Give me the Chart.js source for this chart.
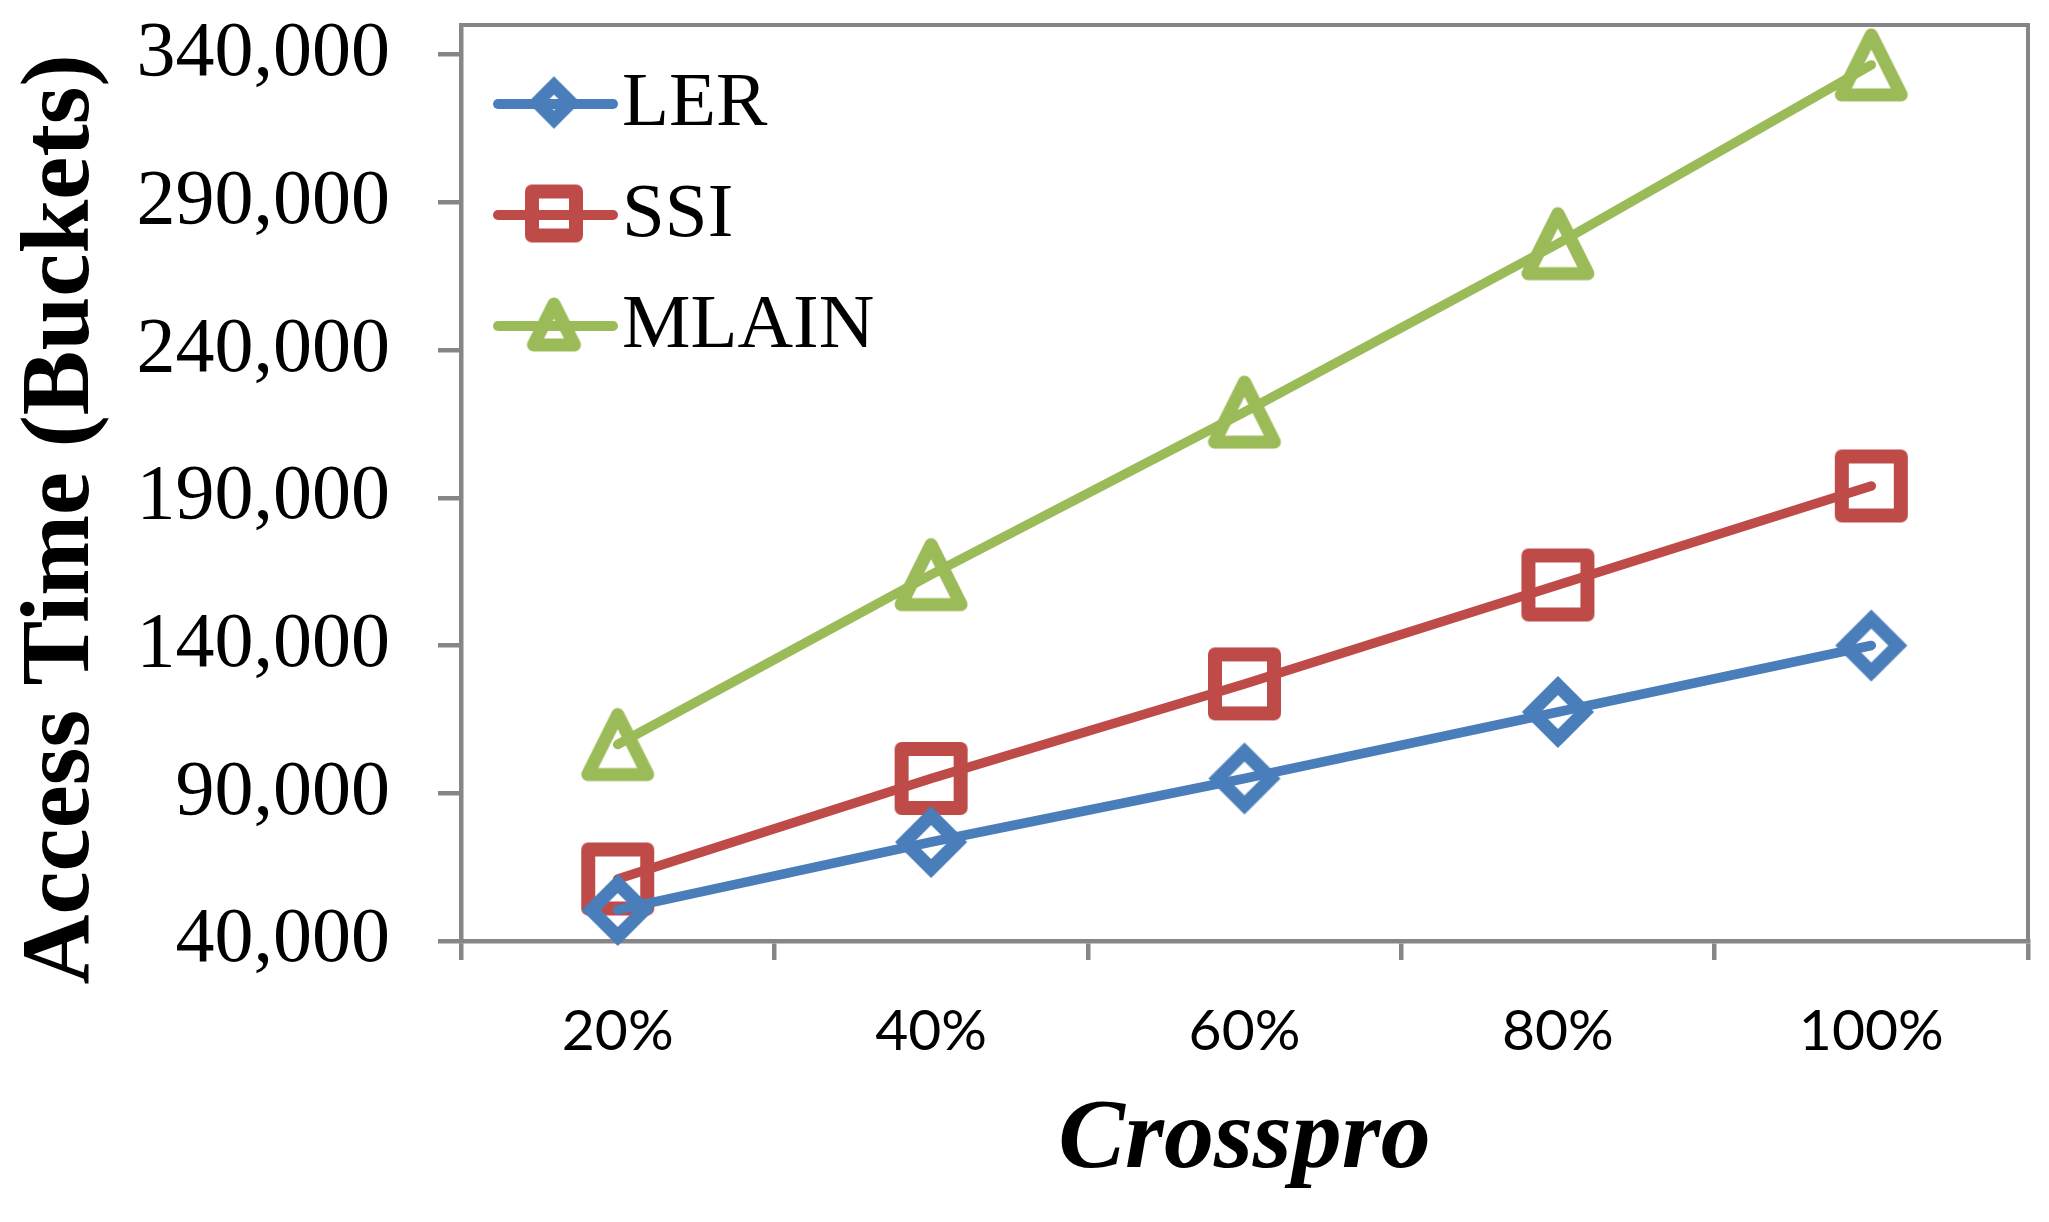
<!DOCTYPE html>
<html>
<head>
<meta charset="utf-8">
<script src="https://cdn.jsdelivr.net/npm/chart.js@4/dist/chart.umd.min.js"></script>
<style>
  html, body { margin: 0; padding: 0; background: #ffffff; }
  #wrap { width: 2049px; height: 1222px; }
</style>
</head>
<body>
<div id="wrap"><canvas id="c" width="2049" height="1222"></canvas></div>
<script>
// ---- data ----
const categories = ['20%', '40%', '60%', '80%', '100%'];
const lerValues = [50500, 73500, 95000, 117500, 140000];
const ssiValues = [61000, 95000, 127000, 160500, 194000];
const mlainValues = [106500, 164000, 219000, 276000, 336500];
const yTickValues = [40000, 90000, 140000, 190000, 240000, 290000, 340000];
const seriesNames = ['LER', 'SSI', 'MLAIN'];
const xTitle = 'Crosspro';
const yTitle = 'Access Time (Buckets)';

// ---- styles ----
const BLUE = '#4A7EBB', RED = '#BE4B48', GREEN = '#9BBB59', AXIS = '#868686';
const SERIF = '"Liberation Serif", "Times New Roman", serif';

// hollow marker images (style only)
function makeMarker(shape, size, stroke, color) {
  const S = Math.ceil(size + stroke * 2 + 6);
  const cv = document.createElement('canvas');
  cv.width = S; cv.height = S;
  const g = cv.getContext('2d');
  const c = S / 2;
  g.strokeStyle = color;
  g.lineWidth = stroke;
  g.beginPath();
  if (shape === 'diamond') {
    const r = size / 2;
    g.lineJoin = 'miter';
    g.moveTo(c, c - r); g.lineTo(c + r, c); g.lineTo(c, c + r); g.lineTo(c - r, c); g.closePath();
  } else if (shape === 'square') {
    const h = size / 2;
    g.lineJoin = 'round';
    g.rect(c - h, c - h, size, size);
  } else {
    const h = size / 2;
    g.lineJoin = 'round';
    g.moveTo(c, c - h); g.lineTo(c + h, c + h); g.lineTo(c - h, c + h); g.closePath();
  }
  g.stroke();
  return cv;
}

const markers = {
  LER: makeMarker('diamond', 53, 13.5, BLUE),
  SSI: makeMarker('square', 59, 14, RED),
  MLAIN: makeMarker('triangle', 60, 13, GREEN)
};
const legendMarkers = {
  LER: makeMarker('diamond', 34, 13, BLUE),
  SSI: makeMarker('square', 44, 14, RED),
  MLAIN: makeMarker('triangle', 41, 13, GREEN)
};

const frame = {
  id: 'frame',
  beforeDatasetsDraw(chart) {
    const a = chart.chartArea, ctx = chart.ctx;
    ctx.save();
    ctx.strokeStyle = AXIS;
    ctx.lineWidth = 4;
    ctx.beginPath();
    ctx.moveTo(a.left, a.top);
    ctx.lineTo(a.right, a.top);
    ctx.lineTo(a.right, a.bottom);
    ctx.stroke();
    ctx.restore();
  }
};

const legendInside = {
  id: 'legendInside',
  afterDatasetsDraw(chart) {
    const ctx = chart.ctx;
    const rows = [104, 215, 326];
    const x0 = 498, x1 = 613, xm = 554, xt = 622;
    chart.data.datasets.forEach((ds, i) => {
      const y = rows[i];
      ctx.save();
      ctx.strokeStyle = ds.borderColor;
      ctx.lineWidth = 10;
      ctx.lineCap = 'round';
      ctx.beginPath();
      ctx.moveTo(x0, y);
      ctx.lineTo(x1, y);
      ctx.stroke();
      const m = legendMarkers[ds.label];
      ctx.drawImage(m, xm - m.width / 2, y - 1.5 - m.height / 2);
      ctx.fillStyle = '#000';
      ctx.font = '77px ' + SERIF;
      ctx.textBaseline = 'middle';
      ctx.textAlign = 'left';
      ctx.fillText(ds.label, xt, y + 1);
      ctx.restore();
    });
  }
};

function mkSet(label, data, color) {
  return {
    label, data,
    borderColor: color,
    backgroundColor: 'rgba(0,0,0,0)',
    borderWidth: 9.5,
    borderCapStyle: 'round',
    borderJoinStyle: 'round',
    pointStyle: markers[label],
    pointRadius: 30,
    pointHoverRadius: 30,
    pointBorderColor: color,
    pointBackgroundColor: 'rgba(0,0,0,0)',
    tension: 0,
    clip: false
  };
}

new Chart(document.getElementById('c'), {
  type: 'line',
  data: {
    labels: categories,
    datasets: [
      mkSet(seriesNames[0], lerValues, BLUE),
      mkSet(seriesNames[1], ssiValues, RED),
      mkSet(seriesNames[2], mlainValues, GREEN)
    ]
  },
  options: {
    responsive: false,
    animation: false,
    devicePixelRatio: 1,
    layout: { autoPadding: false, padding: { top: 25, right: 21, bottom: 0, left: 0 } },
    plugins: { legend: { display: false }, tooltip: { enabled: false } },
    scales: {
      x: {
        type: 'category',
        offset: true,
        grid: { display: true, offset: true, drawOnChartArea: false, drawTicks: true, tickLength: 19, color: AXIS, lineWidth: 4.5 },
        border: { display: true, color: AXIS, width: 4.5 },
        ticks: { color: '#000', padding: 37, maxRotation: 0, font: { family: 'Lato, "Open Sans", sans-serif', size: 57 } },
        title: { display: true, text: xTitle, color: '#000', padding: { top: 0, bottom: 21 }, font: { family: SERIF, size: 100, weight: 'bold', style: 'italic' } },
        afterFit(s) { s.height = 281; s.paddingLeft = 0; s.paddingRight = 0; }
      },
      y: {
        min: 40000,
        max: 350000,
        afterBuildTicks(s) { s.ticks = yTickValues.map(v => ({ value: v })); },
        grid: { display: true, drawOnChartArea: false, drawTicks: true, tickLength: 23, color: AXIS, lineWidth: 4.5 },
        border: { display: true, color: AXIS, width: 4.5 },
        ticks: { color: '#000', padding: 48, font: { family: SERIF, size: 78 }, callback: v => Number(v).toLocaleString('en-US') },
        title: { display: true, text: yTitle + '   ', color: '#000', padding: { top: 5, bottom: 0 }, font: { family: SERIF, size: 97, weight: 'bold' } },
        afterFit(s) { s.width = 461; s.paddingTop = 0; s.paddingBottom = 0; }
      }
    }
  },
  plugins: [frame, legendInside]
});
</script>
</body>
</html>
